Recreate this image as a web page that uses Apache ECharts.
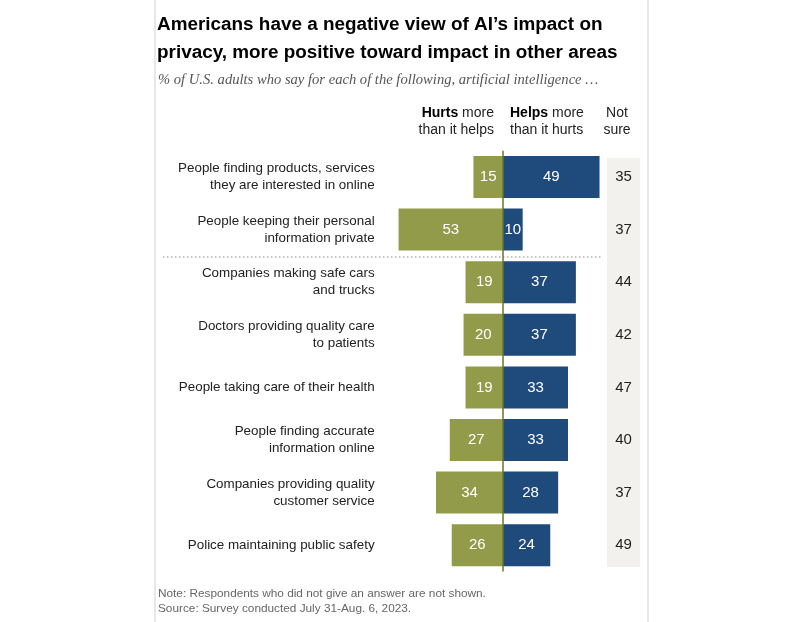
<!DOCTYPE html>
<html><head><meta charset="utf-8">
<script src="https://cdn.jsdelivr.net/npm/echarts@6/dist/echarts.min.js"></script>
<style>html,body{margin:0;padding:0;background:#fff}#c{width:800px;height:622px}</style>
</head><body><div id="c"></div>
<script>
const categories = [
  "People finding products, services\nthey are interested in online",
  "People keeping their personal\ninformation private",
  "Companies making safe cars\nand trucks",
  "Doctors providing quality care\nto patients",
  "People taking care of their health",
  "People finding accurate\ninformation online",
  "Companies providing quality\ncustomer service",
  "Police maintaining public safety"
];
const hurts = [15, 53, 19, 20, 19, 27, 34, 26];
const helps = [49, 10, 37, 37, 33, 33, 28, 24];
const notSure = [35, 37, 44, 42, 47, 40, 37, 49];

const OLIVE = '#929b4a', NAVY = '#1f4a7c';
const FONT = '"Liberation Sans", Arial, sans-serif';
const chart = echarts.init(document.getElementById('c'), null, {renderer: 'canvas'});
const gLeft = 394.6, gW = 206.9, gTop = 150.7, gH = 420.8;

chart.setOption({
  backgroundColor: '#fff',
  animation: false,
  title: [
    {text: "Americans have a negative view of AI\u2019s impact on\nprivacy, more positive toward impact in other areas",
     left: 152, top: 6,
     textStyle: {fontFamily: FONT, fontWeight: 'bold', fontSize: 18.9, lineHeight: 28, color: '#000'}},
    {text: "% of U.S. adults who say for each of the following, artificial intelligence \u2026",
     left: 153, top: 68,
     textStyle: {fontFamily: '"Liberation Serif", Georgia, serif', fontStyle: 'italic', fontWeight: 'normal', fontSize: 14.6, color: '#555'}},
    {text: "Note: Respondents who did not give an answer are not shown.\nSource: Survey conducted July 31-Aug. 6, 2023.",
     left: 153, top: 581,
     textStyle: {fontFamily: FONT, fontWeight: 'normal', fontSize: 11.8, lineHeight: 15, color: '#666'}}
  ],
  grid: {left: gLeft, width: gW, top: gTop, height: gH, containLabel: false},
  xAxis: {type: 'value', min: -55, max: 50, show: false, splitLine: {show: false}},
  yAxis: [
    {type: 'category', data: categories, inverse: true,
     axisLine: {show: false}, axisTick: {show: false},
     axisLabel: {margin: 20, align: 'right', fontFamily: FONT, fontSize: 13.4, lineHeight: 17, color: '#222'}},
    {type: 'category', data: categories, inverse: true, position: 'right',
     axisLine: {show: false}, axisTick: {show: false},
     axisLabel: {margin: 22, align: 'center', fontFamily: FONT, fontSize: 15, color: '#222',
       formatter: (v, i) => String(notSure[i])}}
  ],
  series: [
    {type: 'bar', name: 'Hurts more than it helps', stack: 'a', barWidth: 42,
     data: hurts.map(v => -v), itemStyle: {color: OLIVE},
     label: {show: true, position: 'inside', color: '#fff', fontFamily: FONT, fontSize: 15,
       formatter: p => String(Math.abs(p.value))},
     markLine: {silent: true, symbol: 'none', label: {show: false},
       lineStyle: {color: '#6b7420', width: 1.5, type: 'solid'},
       data: [{xAxis: 0}], z: 10}},
    {type: 'bar', name: 'Helps more than it hurts', stack: 'a', barWidth: 42,
     data: helps, itemStyle: {color: NAVY},
     label: {show: true, position: 'inside', color: '#fff', fontFamily: FONT, fontSize: 15,
       formatter: p => String(Math.abs(p.value))}}
  ],
  graphic: [
    {type: 'line', z: -1, shape: {x1: 155, y1: 0, x2: 155, y2: 622}, style: {stroke: '#e8e8e8', lineWidth: 2}},
    {type: 'line', z: -1, shape: {x1: 648, y1: 0, x2: 648, y2: 622}, style: {stroke: '#e8e8e8', lineWidth: 2}},
    {type: 'rect', z: -1, shape: {x: 607, y: 158, width: 33, height: 409}, style: {fill: '#f2f1ee'}},
    {type: 'line', shape: {x1: 163, y1: 257, x2: 602, y2: 257}, style: {stroke: '#888', lineWidth: 1, lineDash: [1.5, 2.5]}},
    {type: 'text', x: 494, y: 105,
     style: {text: '{b|Hurts} more\nthan it helps', align: 'right', fontFamily: FONT, fontSize: 14, lineHeight: 17, fill: '#222',
       rich: {b: {fontWeight: 'bold', fontFamily: FONT, fontSize: 14, fill: '#000'}}}},
    {type: 'text', x: 510, y: 105,
     style: {text: '{b|Helps} more\nthan it hurts', align: 'left', fontFamily: FONT, fontSize: 14, lineHeight: 17, fill: '#222',
       rich: {b: {fontWeight: 'bold', fontFamily: FONT, fontSize: 14, fill: '#000'}}}},
    {type: 'text', x: 617, y: 105,
     style: {text: 'Not\nsure', align: 'center', fontFamily: FONT, fontSize: 14, lineHeight: 17, fill: '#222'}}
  ]
});
</script></body></html>
